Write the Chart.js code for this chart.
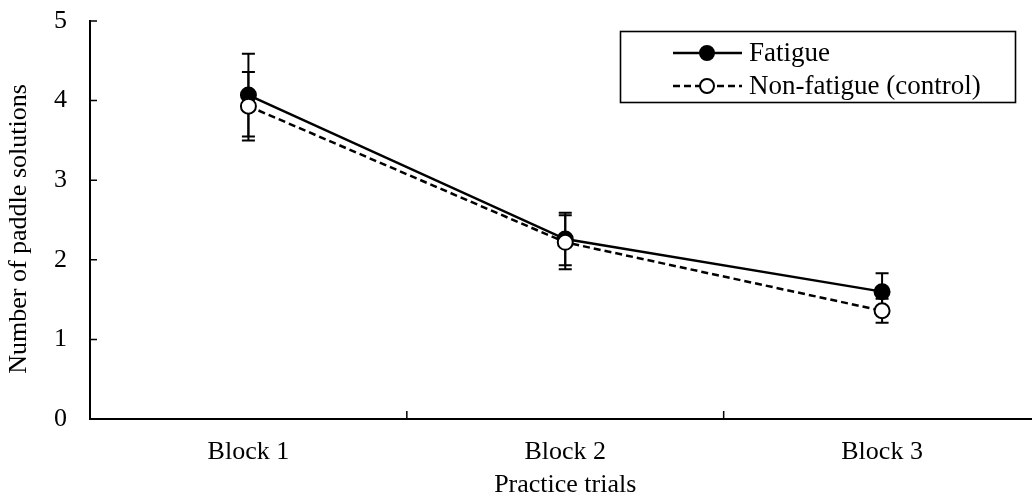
<!DOCTYPE html>
<html>
<head>
<meta charset="utf-8">
<script src="https://cdn.jsdelivr.net/npm/chart.js"></script>
<style>
  html, body { margin: 0; padding: 0; background: #fff; overflow: hidden; }
  #wrap { position: relative; width: 1050px; height: 501px; }
</style>
</head>
<body>
<div id="wrap"><canvas id="chart"></canvas></div>
<script>
// values (means and error bar half-lengths)
const categories = ["Block 1", "Block 2", "Block 3"];
const fatigueMeans = [4.07, 2.26, 1.60];
const fatigueErrors = [0.52, 0.33, 0.23];
const controlMeans = [3.93, 2.22, 1.36];
const controlErrors = [0.43, 0.34, 0.15];
const yTicks = [0, 1, 2, 3, 4, 5];
const seriesNames = ["Fatigue", "Non-fatigue (control)"];
const yTitle = "Number of paddle solutions";

const FONT = "'Liberation Serif', 'DejaVu Serif', serif";
const errors = [fatigueErrors, controlErrors];

// error bars, drawn under the markers
const errorBarPlugin = {
  id: "errorBars",
  beforeDatasetsDraw(chart) {
    const ctx = chart.ctx;
    const x = chart.scales.x, y = chart.scales.y;
    ctx.save();
    ctx.strokeStyle = "#000";
    ctx.lineWidth = 2;
    chart.data.datasets.forEach((ds, di) => {
      ds.data.forEach((v, i) => {
        const px = x.getPixelForValue(i);
        const top = y.getPixelForValue(v + errors[di][i]);
        const bot = y.getPixelForValue(v - errors[di][i]);
        ctx.beginPath();
        ctx.moveTo(px, top); ctx.lineTo(px, bot);
        ctx.moveTo(px - 6.5, top); ctx.lineTo(px + 6.5, top);
        ctx.moveTo(px - 6.5, bot); ctx.lineTo(px + 6.5, bot);
        ctx.stroke();
      });
    });
    ctx.restore();
  }
};

// inward tick marks, y title and the boxed legend
const decorPlugin = {
  id: "decor",
  afterDraw(chart) {
    const ctx = chart.ctx;
    const x = chart.scales.x, y = chart.scales.y;
    const area = chart.chartArea;
    ctx.save();
    ctx.strokeStyle = "#000";
    ctx.lineWidth = 1.5;
    ctx.beginPath();
    yTicks.forEach(t => {
      const py = y.getPixelForValue(t);
      ctx.moveTo(area.left, py); ctx.lineTo(area.left + 7, py);
    });
    for (let i = 1; i < categories.length; i++) {
      const px = (x.getPixelForValue(i - 1) + x.getPixelForValue(i)) / 2;
      ctx.moveTo(px, area.bottom); ctx.lineTo(px, area.bottom - 8);
    }
    ctx.stroke();

    // y axis title
    ctx.save();
    ctx.translate(19, 229);
    ctx.rotate(-Math.PI / 2);
    ctx.fillStyle = "#000";
    ctx.font = "26px " + FONT;
    ctx.textAlign = "center";
    ctx.textBaseline = "middle";
    ctx.fillText(yTitle, 0, 0);
    ctx.restore();

    // legend
    const bx = 620, by = 31, bw = 395, bh = 71;
    ctx.lineWidth = 1.6;
    ctx.strokeRect(bx + 0.5, by + 0.5, bw, bh);
    const rows = [by + 22, by + 55];
    chart.data.datasets.forEach((ds, di) => {
      const ly = rows[di];
      ctx.beginPath();
      ctx.lineWidth = 2.5;
      ctx.setLineDash(ds.borderDash || []);
      ctx.moveTo(673, ly); ctx.lineTo(742, ly);
      ctx.stroke();
      ctx.setLineDash([]);
      ctx.beginPath();
      ctx.arc(707, ly, 7, 0, Math.PI * 2);
      ctx.fillStyle = ds.pointBackgroundColor;
      ctx.fill();
      ctx.lineWidth = 2;
      ctx.stroke();
      ctx.fillStyle = "#000";
      ctx.font = "27px " + FONT;
      ctx.textBaseline = "middle";
      ctx.textAlign = "left";
      ctx.fillText(seriesNames[di], 749, ly + 1);
    });
    ctx.restore();
  }
};

new Chart(document.getElementById("chart"), {
  type: "line",
  data: {
    labels: categories,
    datasets: [
      {
        label: seriesNames[0],
        data: fatigueMeans,
        order: 1,
        borderColor: "#000",
        borderWidth: 2.5,
        pointRadius: 7.5,
        pointBackgroundColor: "#000",
        pointBorderColor: "#000",
        pointBorderWidth: 2,
        tension: 0
      },
      {
        label: seriesNames[1],
        data: controlMeans,
        order: 0,
        borderColor: "#000",
        borderWidth: 2.5,
        borderDash: [7, 4],
        pointRadius: 7.5,
        pointBackgroundColor: "#fff",
        pointBorderColor: "#000",
        pointBorderWidth: 2,
        tension: 0
      }
    ]
  },
  plugins: [errorBarPlugin, decorPlugin],
  options: {
    responsive: true,
    maintainAspectRatio: false,
    animation: false,
    layout: { padding: { top: 21, right: 1, left: 0, bottom: 0 } },
    plugins: {
      legend: { display: false },
      tooltip: { enabled: false }
    },
    scales: {
      x: {
        offset: true,
        grid: { display: false, drawTicks: false },
        border: { display: true, color: "#000", width: 2 },
        ticks: { color: "#000", font: { family: FONT, size: 26 }, padding: 18 },
        title: {
          display: true,
          text: "Practice trials",
          color: "#000",
          font: { family: FONT, size: 26 },
          padding: { top: 0, bottom: 0 }
        },
        afterFit(s) { s.height = 82; s.paddingLeft = 0; s.paddingRight = 0; }
      },
      y: {
        min: 0,
        max: 5,
        grid: { display: false, drawTicks: false },
        border: { display: true, color: "#000", width: 2 },
        ticks: {
          color: "#000",
          stepSize: 1,
          font: { family: FONT, size: 26 },
          padding: 23
        },
        afterFit(s) { s.width = 90; s.paddingTop = 0; s.paddingBottom = 0; }
      }
    }
  }
});
</script>
</body>
</html>
